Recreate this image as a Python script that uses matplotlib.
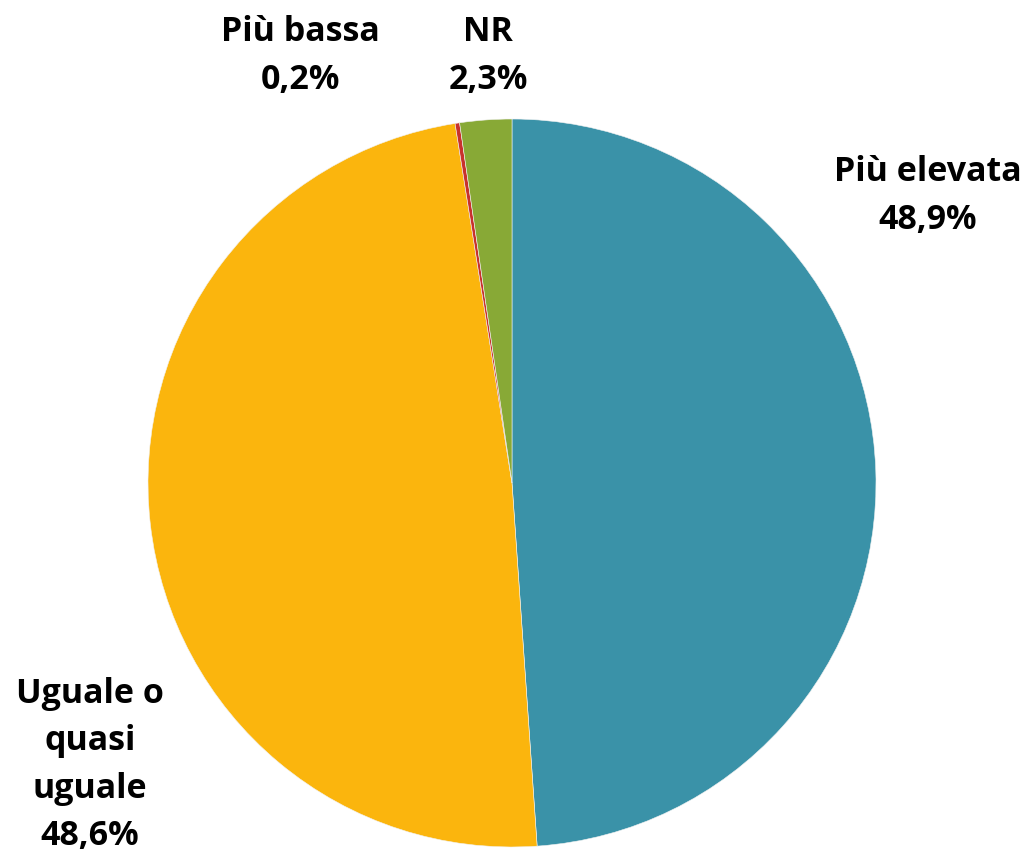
import matplotlib
matplotlib.use("Agg")
import matplotlib.pyplot as plt

categories = ["Più elevata", "Uguale o\nquasi\nuguale", "Più bassa", "NR"]
values = [48.9, 48.6, 0.2, 2.3]
colors = ["#3A92A8", "#FBB50D", "#C8312C", "#88A936"]

W, H = 1029, 858
fig = plt.figure(figsize=(W / 100, H / 100), dpi=100)
cx, cy, r = 512, 483, 364
ax = fig.add_axes([(cx - r) / W, (H - cy - r) / H, 2 * r / W, 2 * r / H])
ax.pie(values, colors=colors, startangle=90, counterclock=False, radius=1,
       wedgeprops=dict(edgecolor="#f2f2f2", linewidth=0.4))
ax.set_xlim(-1, 1)
ax.set_ylim(-1, 1)
ax.set_aspect("equal")
ax.axis("off")

label_pos = [(928, 196), (90, 765), (300, 56), (488, 56)]
for cat, v, (px, py) in zip(categories, values, label_pos):
    txt = f"{cat}\n{v:.1f}%".replace(".", ",")
    ax.text((px - cx) / r, (cy - py) / r, txt, ha="center", va="center",
            fontsize=24.5, fontweight="bold", family="Open Sans",
            linespacing=1.52, color="#000000", clip_on=False)

fig.savefig("out.png", dpi=100)
